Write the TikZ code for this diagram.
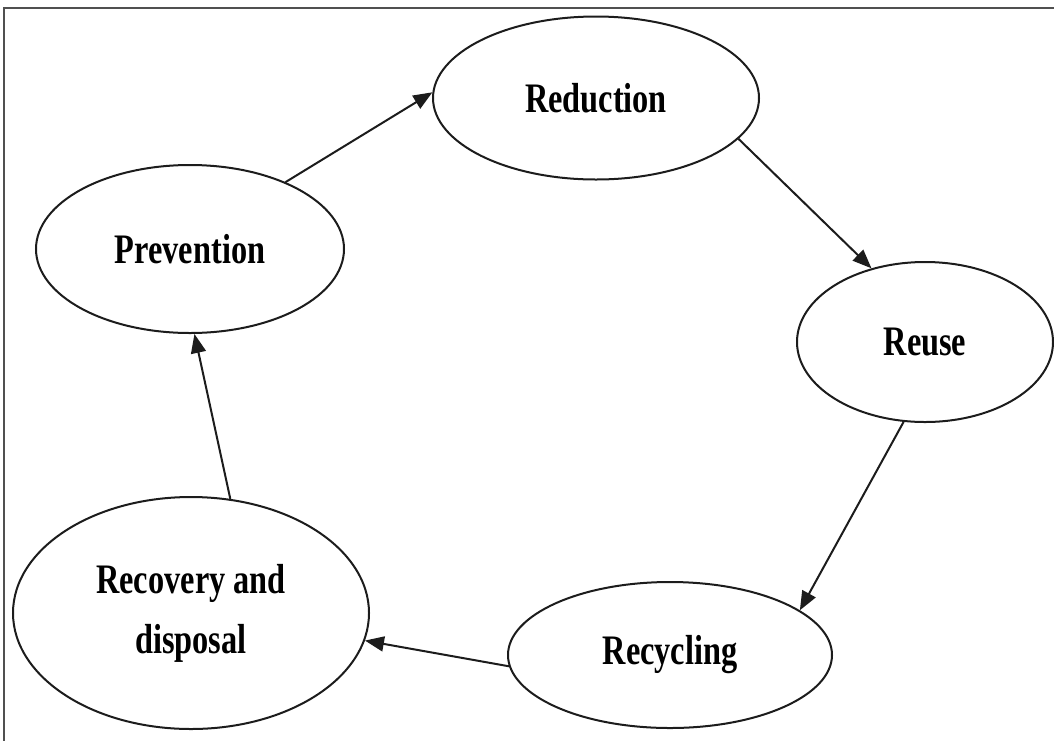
\documentclass[tikz,border=0pt]{standalone}
\usepackage{fontspec}
\usepackage{xcolor}
\newfontfamily\stagefont{Liberation Serif}[FakeStretch=0.77]
\definecolor{frameGray}{RGB}{80,80,80}
\definecolor{inkBlack}{RGB}{28,28,28}
\usepackage{tikz}
\usetikzlibrary{arrows.meta,shapes.geometric}

\tikzset{
  stage/.style={ellipse, draw=inkBlack, line width=2pt, inner sep=0pt,
    align=center, font=\stagefont\bfseries\fontsize{42}{60}\selectfont},
  flow/.style={inkBlack, line width=2pt, -{Triangle[length=19pt,width=15pt]}}
}

\begin{document}
\begin{tikzpicture}[x=1pt, y=-1pt]
      \useasboundingbox (0,0) rectangle (1054,740);
      \clip (0,0) rectangle (1054,740);
      \draw[frameGray, line width=2pt] (3.5,760) |- (1080,8);

      \node[stage, minimum width=308pt, minimum height=168pt] (prevention) at (190,249) {Prevention};
      \node[stage, minimum width=326pt, minimum height=163pt] (reduction) at (596,98) {Reduction};
      \node[stage, minimum width=256pt, minimum height=160pt] (reuse) at (925,342) {Reuse};
      \node[stage, minimum width=324pt, minimum height=146pt] (recycling) at (670,655) {Recycling};
      \node[stage, minimum width=356pt, minimum height=232pt] (recovery) at (191,613) {Recovery and\\disposal};

      \draw[flow] (prevention.35) -- (reduction.178);
      \draw[flow] (reduction.-16) -- (reuse.126);
      \draw[flow] (reuse.-105) -- (recycling.19);
      \draw[flow] (recycling.-176) -- (recovery.-9);
      \draw[flow] (recovery.71) -- (prevention.-87);
    \end{tikzpicture}
\end{document}
